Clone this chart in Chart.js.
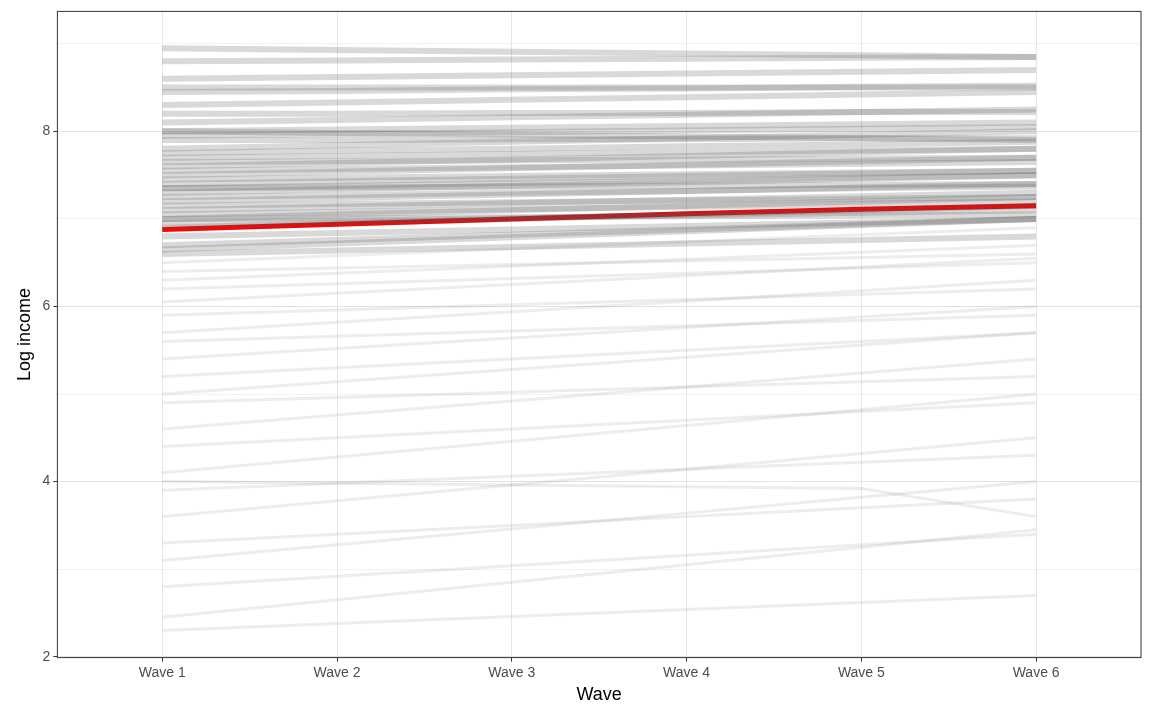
<!DOCTYPE html>
<html><head><meta charset="utf-8">
<script src="https://cdn.jsdelivr.net/npm/chart.js@4"></script>
<style>body{margin:0;background:#fff}#w{width:1152px;height:720px}</style>
</head><body><div id="w"><canvas id="c"></canvas></div>
<script>
const waves = ["Wave 1","Wave 2","Wave 3","Wave 4","Wave 5","Wave 6"];
const meanIncome = [6.88, 6.94, 7.00, 7.06, 7.11, 7.15];
const individuals = [
[8.95,8.93,8.91,8.89,8.87,8.85],[8.80,8.81,8.82,8.83,8.84,8.85],[8.60,8.62,8.64,8.66,8.68,8.70],
[8.45,8.46,8.48,8.49,8.51,8.52],[8.30,8.33,8.36,8.39,8.42,8.45],[8.20,8.20,8.21,8.21,8.22,8.22],
[8.10,8.13,8.16,8.19,8.22,8.25],[8.00,8.02,8.04,8.06,8.08,8.10],[7.95,7.97,7.99,8.01,8.03,8.05],
[7.90,7.90,7.91,7.91,7.92,7.92],[7.80,7.84,7.88,7.92,7.96,8.00],[7.75,7.78,7.80,7.83,7.85,7.88],
[7.70,7.72,7.74,7.76,7.78,7.80],[7.60,7.64,7.68,7.72,7.76,7.80],[7.55,7.57,7.59,7.61,7.63,7.65],
[7.50,7.54,7.58,7.62,7.66,7.70],[7.45,7.47,7.49,7.51,7.53,7.55],[7.40,7.43,7.46,7.49,7.52,7.55],
[7.35,7.38,7.41,7.44,7.47,7.50],[7.30,7.34,7.38,7.42,7.46,7.50],[7.25,7.27,7.30,7.32,7.35,7.37],
[7.20,7.24,7.28,7.32,7.36,7.40],[7.15,7.17,7.19,7.21,7.23,7.25],[7.10,7.14,7.18,7.22,7.26,7.30],
[7.05,7.08,7.11,7.14,7.17,7.20],[7.00,7.05,7.10,7.15,7.20,7.25],[6.95,6.98,7.01,7.04,7.07,7.10],
[6.90,6.95,7.00,7.05,7.10,7.15],[6.80,6.84,6.88,6.92,6.96,7.00],[6.70,6.76,6.82,6.88,6.94,7.00],
[6.60,6.64,6.68,6.72,6.76,6.80],[6.50,6.58,6.66,6.74,6.82,6.90],[6.40,6.44,6.48,6.52,6.56,6.60],
[6.30,6.38,6.46,6.54,6.62,6.70],[6.20,6.26,6.32,6.38,6.44,6.50],[6.05,6.15,6.25,6.35,6.45,6.55],
[5.90,5.96,6.02,6.08,6.14,6.20],[5.70,5.82,5.94,6.06,6.18,6.30],[5.60,5.66,5.72,5.78,5.84,5.90],
[5.40,5.52,5.64,5.76,5.88,6.00],[5.20,5.30,5.40,5.50,5.60,5.70],[5.00,5.14,5.28,5.42,5.56,5.70],
[4.90,4.96,5.02,5.08,5.14,5.20],[4.60,4.76,4.92,5.08,5.24,5.40],[4.40,4.50,4.60,4.70,4.80,4.90],
[4.10,4.28,4.46,4.64,4.82,5.00],[3.90,3.98,4.06,4.14,4.22,4.30],[3.60,3.78,3.96,4.14,4.32,4.50],
[3.30,3.40,3.50,3.60,3.70,3.80],[3.10,3.28,3.46,3.64,3.82,4.00],[2.80,2.92,3.04,3.16,3.28,3.40],
[2.45,2.65,2.85,3.05,3.25,3.45],[2.30,2.38,2.46,2.54,2.62,2.70],[4.00,3.98,3.96,3.94,3.92,3.60],
[7.65,7.66,7.67,7.68,7.69,7.70],[7.35,7.36,7.37,7.38,7.39,7.40],[7.00,7.01,7.02,7.03,7.04,7.05],
[6.65,6.72,6.79,6.86,6.93,7.00],[8.50,8.50,8.50,8.50,8.50,8.50],[8.00,7.98,7.96,7.94,7.92,7.90]
];
const datasets = individuals.map(v => {
  const dense = v[0] > 6.5;
  return {data: v.map((y,i)=>({x:i+1,y})), borderColor: dense ? 'rgba(80,80,80,0.22)' : 'rgba(80,80,80,0.10)',
    borderWidth: dense ? 6 : 3, pointRadius:0, tension:0};
});
datasets.push({data: meanIncome.map((y,i)=>({x:i+1,y})), borderColor:'#ff0000', borderWidth:5, pointRadius:0});
const border = {id:'b', afterDraw(c){const a=c.chartArea,x=c.ctx;x.save();x.strokeStyle='#333';x.lineWidth=1;x.strokeRect(a.left,a.top,a.right-a.left,a.bottom-a.top);x.restore();}};
new Chart(document.getElementById('c'), {
  type:'line', data:{datasets}, plugins:[border],
  options:{responsive:true, maintainAspectRatio:false, animation:false,
    layout:{padding:{top:10,right:11,left:10,bottom:10}},
    plugins:{legend:{display:false},tooltip:{enabled:false}},
    scales:{
      x:{type:'linear',min:0.4,max:6.6,afterBuildTicks:s=>{s.ticks=[1,2,3,4,5,6].map(v=>({value:v}));},
        ticks:{callback:v=>waves[v-1],color:'#4d4d4d',font:{family:'Liberation Sans',size:14}},
        grid:{color:'#e6e6e6',drawTicks:true,tickColor:'#333',tickLength:4},border:{display:false},
        title:{display:true,text:'Wave',color:'#000',font:{family:'Liberation Sans',size:18},padding:{top:0}}},
      y:{min:1.99,max:9.37,afterBuildTicks:s=>{s.ticks=[2,3,4,5,6,7,8,9].map(v=>({value:v}));},
        ticks:{callback:v=>v%2===0?String(v):'',color:'#4d4d4d',font:{family:'Liberation Sans',size:14}},
        grid:{color:c=>c.tick&&c.tick.value%2===0?'#e3e3e3':'#f2f2f2',tickColor:c=>c.tick&&c.tick.value%2===0?'#333':'rgba(0,0,0,0)',tickLength:4},border:{display:false},
        title:{display:true,text:'Log income',color:'#000',font:{family:'Liberation Sans',size:18}}}
    }}
});
</script></body></html>
